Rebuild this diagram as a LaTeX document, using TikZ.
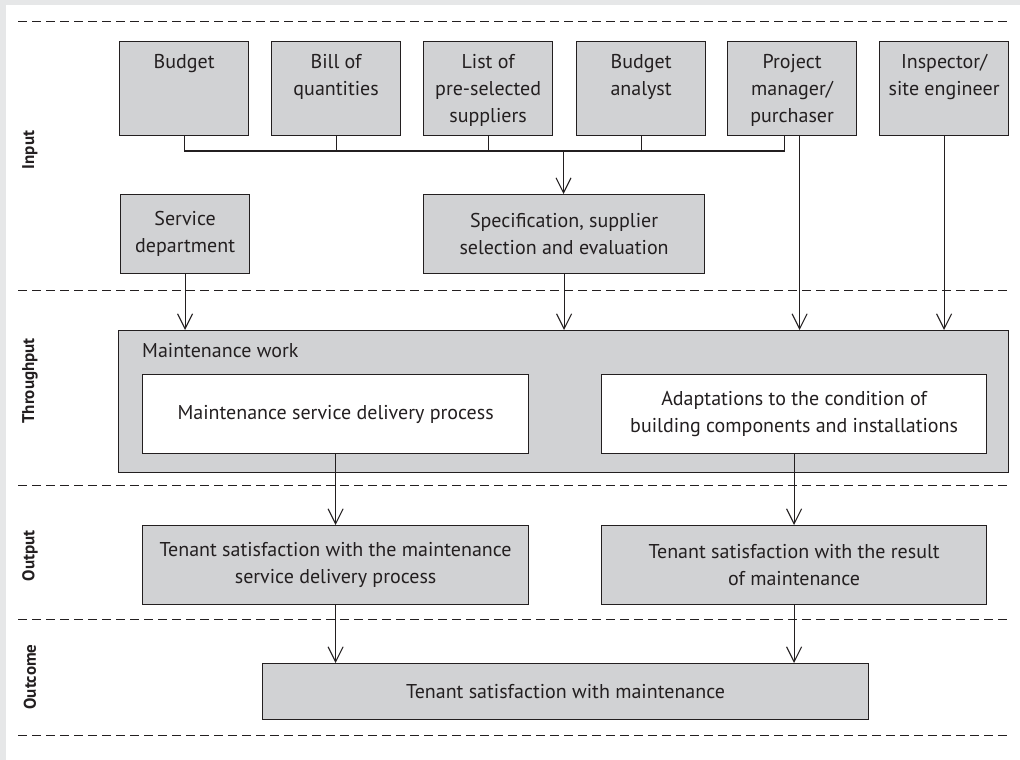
\documentclass[tikz,border=0pt]{standalone}
\usepackage{fontspec}
\setmainfont{PT Sans}
\usetikzlibrary{arrows.meta}
\definecolor{boxgray}{HTML}{D1D2D4}
\definecolor{linec}{HTML}{231F20}
\definecolor{framegray}{HTML}{E6E7E8}
\newcommand{\tbtext}[1]{\parbox[c][94pt][t]{127pt}{\centering\vspace*{8pt}\strut #1}}
\tikzset{
  box/.style={draw=linec, fill=boxgray, line width=1.2pt, inner sep=0pt, align=center,
    font=\fontsize{20}{27}\selectfont, text=linec},
  topbox/.style={box, anchor=north west, minimum width=129, minimum height=94},
  whitebox/.style={box, fill=white},
  conn/.style={draw=linec, line width=1.1pt},
  arr/.style={conn, -{Straight Barb[length=15pt,width=15pt,line width=1.1pt]}},
  sep/.style={draw=linec, line width=0.9pt, dash pattern=on 9pt off 5pt},
  lab/.style={rotate=90, font=\fontsize{17}{20}\selectfont\bfseries, text=linec, inner sep=0pt},
}
\begin{document}
\begin{tikzpicture}[x=1pt,y=-1pt]
\useasboundingbox (0,0) rectangle (1020,760);
\fill[framegray] (0,0) rectangle (1020,760);
\fill[white] (6,5) rectangle (1020,760);

% separators
\draw[sep] (18,21) -- (1008,21);
\draw[sep] (18,290) -- (1008,290);
\draw[sep] (18,485) -- (1008,485);
\draw[sep] (18,619) -- (1008,619);
\draw[sep] (18,735) -- (1008,735);

% side labels
\node[lab] (linput) at (30,150) {Input};
\node[lab] (lthr) at (30,381) {Throughput};
\node[lab] (lout) at (30,556) {Output};
\node[lab] (lotc) at (30,677) {Outcome};

% top row
\node[topbox] (budget) at (119,41) {\tbtext{Budget}};
\node[topbox] (bill) at (271,41) {\tbtext{Bill of\\quantities}};
\node[topbox] (list) at (423,41) {\tbtext{List of\\pre-selected\\suppliers}};
\node[topbox] (analyst) at (576,41) {\tbtext{Budget\\analyst}};
\node[topbox] (pm) at (727,41) {\tbtext{Project\\manager/\\purchaser}};
\node[topbox] (insp) at (879,41) {\tbtext{Inspector/\\site engineer}};

% second row
\node[box, anchor=north west, minimum width=129, minimum height=79] (service) at (120,194) {Service\\department};
\node[box, anchor=north west, minimum width=281, minimum height=79] (spec) at (423,194) {Specification, supplier\\selection and evaluation};

% throughput
\node[box, anchor=north west, minimum width=890, minimum height=142] (thr) at (118,330) {};
\node[anchor=base west, inner sep=0pt, font=\fontsize{20}{27}\selectfont, text=linec] (thrlab) at (142,357) {Maintenance work};
\node[whitebox, anchor=north west, minimum width=386, minimum height=79] (msd) at (142,374) {Maintenance service delivery process};
\node[whitebox, anchor=north west, minimum width=385, minimum height=79] (adapt) at (601,374) {Adaptations to the condition of\\building components and installations};

% output
\node[box, anchor=north west, minimum width=386, minimum height=79] (outL) at (142,525) {Tenant satisfaction with the maintenance\\service delivery process};
\node[box, anchor=north west, minimum width=385, minimum height=79] (outR) at (601,525) {Tenant satisfaction with the result\\of maintenance};

% outcome
\node[box, anchor=north west, minimum width=606, minimum height=56] (outcome) at (262,663) {Tenant satisfaction with maintenance};

% bus
\coordinate (busL) at (184,151);
\coordinate (busR) at (784,151);
\coordinate (busM) at (563.5,151);
\draw[conn] (budget.south) -- (budget.south |- busL);
\draw[conn] (bill.south) -- (bill.south |- busL);
\draw[conn] (list.south) -- (list.south |- busL);
\draw[conn] (analyst.south) -- (analyst.south |- busL);
\draw[conn] ([xshift=-7.5pt]pm.south) -- ([xshift=-7.5pt]pm.south |- busL);
\draw[conn] (budget.south |- busL) -- ([xshift=-7.5pt]pm.south |- busL);
\draw[arr] (busM) -- (busM |- spec.north);

% arrows into throughput
\draw[arr] (service.south) -- (service.south |- thr.north);
\draw[arr] (spec.south) -- (spec.south |- thr.north);
\draw[arr] ([xshift=7.5pt]pm.south) -- ([xshift=7.5pt]pm.south |- thr.north);
\draw[arr] (insp.south) -- (insp.south |- thr.north);

% to output
\draw[arr] (msd.south) -- (msd.south |- outL.north);
\draw[arr] (adapt.south) -- (adapt.south |- outR.north);

% to outcome
\draw[arr] (outL.south) -- (outL.south |- outcome.north);
\draw[arr] (outR.south) -- (outR.south |- outcome.north);
\end{tikzpicture}
\end{document}
